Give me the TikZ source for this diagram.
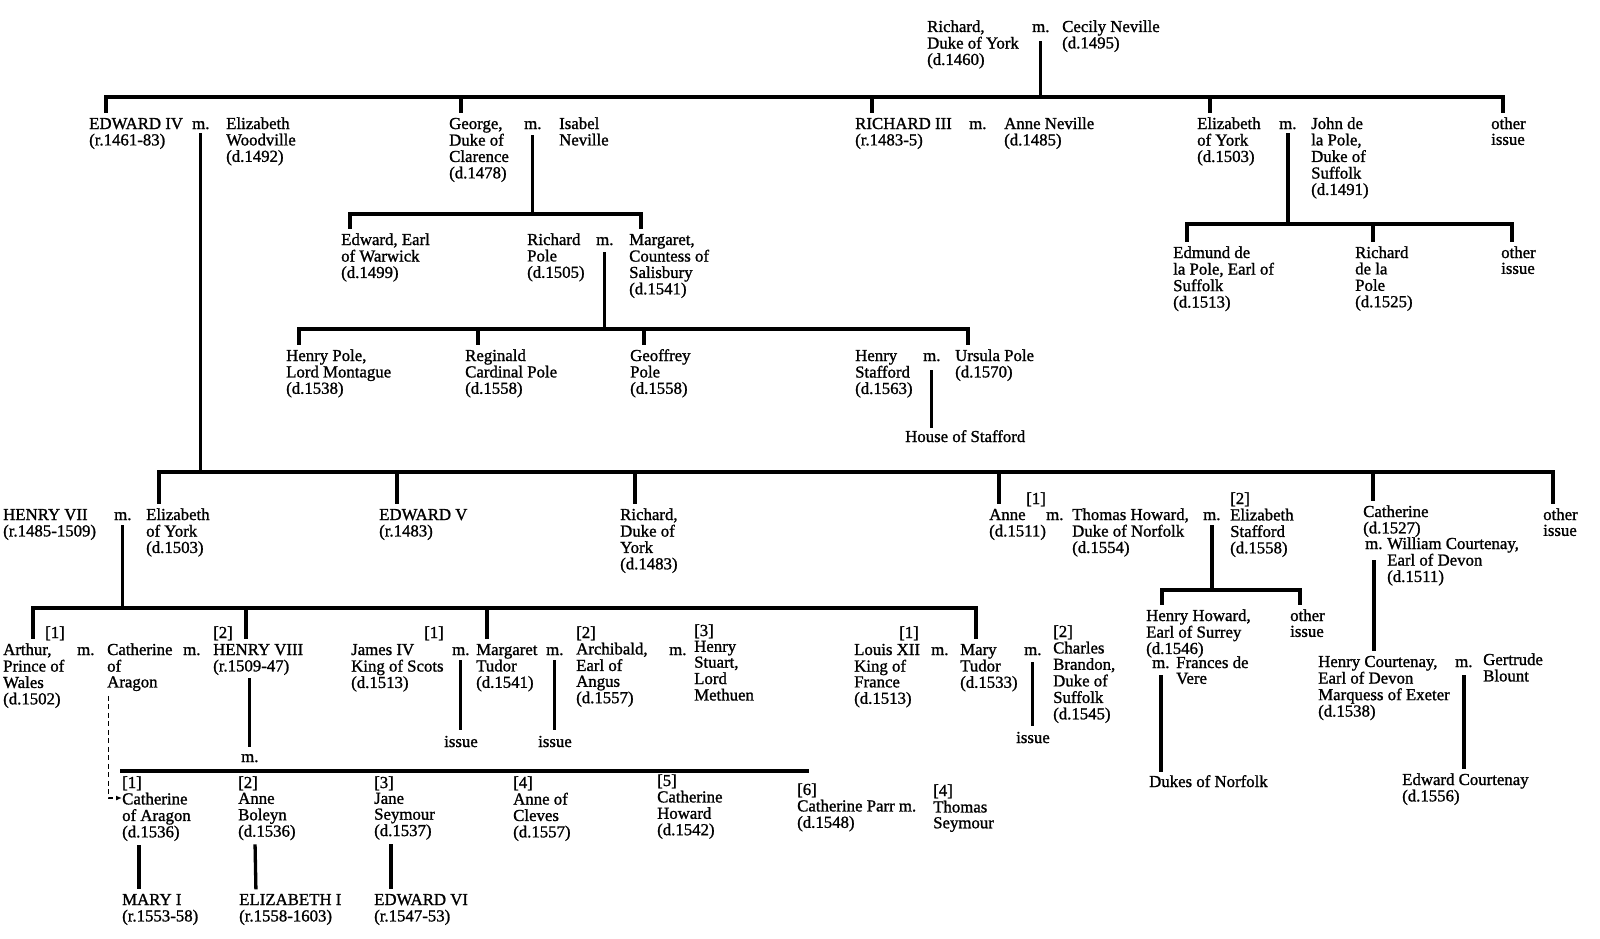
\documentclass[tikz,border=0pt]{standalone}
\usepackage{fontspec}
\setmainfont{Liberation Serif}[FakeBold=1.2]
\usetikzlibrary{arrows.meta,calc}
% stacked lines, hung from the first baseline
\newcommand\pl[1]{\begin{tabular}[t]{@{}l@{}}#1\end{tabular}}

\begin{document}
\begin{tikzpicture}[x=1pt,y=-1pt,
  font=\fontsize{16.8}{15.8}\selectfont,
  pp/.style={anchor=base west,inner sep=0pt},
  ln/.style={line width=3.3pt,line cap=rect},
  dr/.style={ln,shorten >=6pt},
  mb/.style={ln,shorten <=#1},mb/.default=6.6pt,
  mc/.style={ln,shorten <=#1,shorten >=6pt},mc/.default=6.6pt,
  dsh/.style={line width=1.3pt,dash pattern=on 5pt off 3.5pt,-{Latex[length=6pt,width=5pt]}}]
\useasboundingbox (0,0) rectangle (1600,939);

% Richard, Duke of York and Cecily Neville
\node[pp] (rdy) at (927,32) {\pl{Richard,\\Duke of York\\(d.1460)}};
\node[pp] (m0) at (1032,32) {m.};
\node[pp] (cec) at (1062,32) {\pl{Cecily Neville\\(d.1495)}};

% their children
\node[pp] (edw4) at (89,129) {\pl{EDWARD IV\\(r.1461-83)}};
\node[pp] (m1) at (192,129) {m.};
\node[pp] (ewood) at (226,129) {\pl{Elizabeth\\Woodville\\(d.1492)}};
\node[pp] (geo) at (449,129) {\pl{George,\\Duke of\\Clarence\\(d.1478)}};
\node[pp] (m2) at (524,129) {m.};
\node[pp] (isab) at (559,129) {\pl{Isabel\\Neville}};
\node[pp] (ric3) at (855,129) {\pl{RICHARD III\\(r.1483-5)}};
\node[pp] (m3) at (969,129) {m.};
\node[pp] (anev) at (1004,129) {\pl{Anne Neville\\(d.1485)}};
\node[pp] (elzy) at (1197,129) {\pl{Elizabeth\\of York\\(d.1503)}};
\node[pp] (m4) at (1279,129) {m.};
\node[pp] (jdlp) at (1311,129) {\pl{John de\\la Pole,\\Duke of\\Suffolk\\(d.1491)}};
\node[pp] (oth1) at (1491,129) {\pl{other\\issue}};

% Clarence and de la Pole children
\node[pp] (warw) at (341,245) {\pl{Edward, Earl\\of Warwick\\(d.1499)}};
\node[pp] (rpole) at (527,245) {\pl{Richard\\Pole\\(d.1505)}};
\node[pp] (m5) at (596,245) {m.};
\node[pp] (marg) at (629,245) {\pl{Margaret,\\Countess of\\Salisbury\\(d.1541)}};
\node[pp] (edmd) at (1173,258) {\pl{Edmund de\\la Pole, Earl of\\Suffolk\\(d.1513)}};
\node[pp] (rdlp) at (1355,258) {\pl{Richard\\de la\\Pole\\(d.1525)}};
\node[pp] (oth2) at (1501,258) {\pl{other\\issue}};

% the Poles
\node[pp] (hpole) at (286,361) {\pl{Henry Pole,\\Lord Montague\\(d.1538)}};
\node[pp] (regi) at (465,361) {\pl{Reginald\\Cardinal Pole\\(d.1558)}};
\node[pp] (geof) at (630,361) {\pl{Geoffrey\\Pole\\(d.1558)}};
\node[pp] (hstaf) at (855,361) {\pl{Henry\\Stafford\\(d.1563)}};
\node[pp] (m6) at (923,361) {m.};
\node[pp] (ursu) at (955,361) {\pl{Ursula Pole\\(d.1570)}};
\node[pp] (hsta) at (905,442) {House of Stafford};

% children of Edward IV
\node[pp] (h7) at (3,520) {\pl{HENRY VII\\(r.1485-1509)}};
\node[pp] (m7) at (114,520) {m.};
\node[pp] (ely2) at (146,520) {\pl{Elizabeth\\of York\\(d.1503)}};
\node[pp] (edw5) at (379,520) {\pl{EDWARD V\\(r.1483)}};
\node[pp] (rdy2) at (620,520) {\pl{Richard,\\Duke of\\York\\(d.1483)}};
\node[pp] (anne) at (989,520) {\pl{Anne\\(d.1511)}};
\node[pp] (anne-n) at (1026,504) {[1]};
\node[pp] (m8) at (1046,520) {m.};
\node[pp] (thow) at (1072,520) {\pl{Thomas Howard,\\Duke of Norfolk\\(d.1554)}};
\node[pp] (m9) at (1203,520) {m.};
\node[pp] (estaf) at (1230,504) {\pl{[2]\\Elizabeth\\Stafford\\(d.1558)}};
\node[pp] (cath) at (1363,517) {\pl{Catherine\\(d.1527)}};
\node[pp] (m10) at (1365,549) {m.};
\node[pp] (wcour) at (1387,549) {\pl{William Courtenay,\\Earl of Devon\\(d.1511)}};
\node[pp] (oth3) at (1543,520) {\pl{other\\issue}};

% children of Henry VII
\node[pp] (arth) at (3,655) {\pl{Arthur,\\Prince of\\Wales\\(d.1502)}};
\node[pp] (arth-n) at (45,638) {[1]};
\node[pp] (m11) at (77,655) {m.};
\node[pp] (cat1) at (107,655) {\pl{Catherine\\of\\Aragon}};
\node[pp] (m12) at (183,655) {m.};
\node[pp] (h8-n) at (213,638) {[2]};
\node[pp] (h8) at (213,655) {\pl{HENRY VIII\\(r.1509-47)}};
\node[pp] (m13) at (241,762) {m.};
\node[pp] (jam4) at (351,655) {\pl{James IV\\King of Scots\\(d.1513)}};
\node[pp] (jam4-n) at (424,638) {[1]};
\node[pp] (m14) at (452,655) {m.};
\node[pp] (iss1) at (444,747) {issue};
\node[pp] (mtud) at (476,655) {\pl{Margaret\\Tudor\\(d.1541)}};
\node[pp] (m15) at (546,655) {m.};
\node[pp] (iss2) at (538,747) {issue};
\node[pp] (arch) at (576,638) {\pl{[2]\\Archibald,\\Earl of\\Angus\\(d.1557)}};
\node[pp] (m16) at (669,655) {m.};
\node[pp] (hstu) at (694,636) {\pl{[3]\\Henry\\Stuart,\\Lord\\Methuen}};
\node[pp] (lou) at (854,655) {\pl{Louis XII\\King of\\France\\(d.1513)}};
\node[pp] (lou-n) at (899,638) {[1]};
\node[pp] (m17) at (931,655) {m.};
\node[pp] (mary) at (960,655) {\pl{Mary\\Tudor\\(d.1533)}};
\node[pp] (m18) at (1024,655) {m.};
\node[pp] (iss3) at (1016,743) {issue};
\node[pp] (cbran) at (1053,637) {\pl{[2]\\Charles\\Brandon,\\Duke of\\Suffolk\\(d.1545)}};

% Howards and Courtenays
\node[pp] (hhow) at (1146,621) {\pl{Henry Howard,\\Earl of Surrey\\(d.1546)}};
\node[pp] (m19) at (1152,668) {m.};
\node[pp] (fdv) at (1176,668) {\pl{Frances de\\Vere}};
\node[pp] (dnor) at (1149,787) {Dukes of Norfolk};
\node[pp] (oth4) at (1290,621) {\pl{other\\issue}};
\node[pp] (hcour) at (1318,667) {\pl{Henry Courtenay,\\Earl of Devon\\Marquess of Exeter\\(d.1538)}};
\node[pp] (m20) at (1455,667) {m.};
\node[pp] (gert) at (1483,665) {\pl{Gertrude\\Blount}};
\node[pp] (ecour) at (1402,785) {\pl{Edward Courtenay\\(d.1556)}};

% wives of Henry VIII and their children
\node[pp] (w1) at (122,788) {\pl{[1]\\Catherine\\of Aragon\\(d.1536)}};
\node[pp] (w2) at (238,788) {\pl{[2]\\Anne\\Boleyn\\(d.1536)}};
\node[pp] (w3) at (374,788) {\pl{[3]\\Jane\\Seymour\\(d.1537)}};
\node[pp] (w4) at (513,788) {\pl{[4]\\Anne of\\Cleves\\(d.1557)}};
\node[pp] (w5) at (657,786) {\pl{[5]\\Catherine\\Howard\\(d.1542)}};
\node[pp] (w6) at (797,795) {\pl{[6]\\Catherine Parr m.\\(d.1548)}};
\node[pp] (tsey) at (933,796) {\pl{[4]\\Thomas\\Seymour}};
\node[pp] (mary1) at (122,905) {\pl{MARY I\\(r.1553-58)}};
\node[pp] (eliz1) at (239,905) {\pl{ELIZABETH I\\(r.1558-1603)}};
\node[pp] (edw6) at (374,905) {\pl{EDWARD VI\\(r.1547-53)}};

% levels of the bars
\coordinate (yb0) at (0,97);
\coordinate (yb1) at (0,214);
\coordinate (yb2) at (0,224);
\coordinate (yb3) at (0,329);
\coordinate (yb4) at (0,472);
\coordinate (yb5) at (0,608);
\coordinate (yb6) at (0,590);
\coordinate (yb7) at (0,771);

% where each drop meets its child
\foreach \n/\d in {edw4/17pt,geo/12pt,ric3/17pt,elzy/13pt,oth1/12pt,warw/9pt,marg/12pt,
  edmd/14pt,rdlp/18pt,oth2/11pt,hpole/13pt,regi/13pt,geof/14pt,ursu/13pt,ely2/13pt,
  edw5/18pt,rdy2/15pt,anne/10pt,cath/10pt,oth3/10pt,arth/30pt,h8/33pt,mtud/11pt,
  mary/16pt,hhow/16pt,oth4/10pt}
  \coordinate (\n-d) at ([xshift=\d]\n.north west);

% bars and drops
\draw[ln] (edw4-d |- yb0) -- (oth1-d |- yb0);
\foreach \n in {edw4,geo,ric3,elzy,oth1} \draw[dr] (\n-d |- yb0) -- (\n-d);
\draw[mb=10.6pt] (m0.south) -- (m0.south |- yb0);

\draw[ln] (warw-d |- yb1) -- (marg-d |- yb1);
\foreach \n in {warw,marg} \draw[dr] (\n-d |- yb1) -- (\n-d);
\draw[mb=7.6pt] (m2.south) -- (m2.south |- yb1);

\draw[ln] (edmd-d |- yb2) -- (oth2-d |- yb2);
\foreach \n in {edmd,rdlp,oth2} \draw[dr] (\n-d |- yb2) -- (\n-d);
\draw[mb=5.6pt] (m4.south) -- (m4.south |- yb2);

\draw[ln] (hpole-d |- yb3) -- (ursu-d |- yb3);
\foreach \n in {hpole,regi,geof,ursu} \draw[dr] (\n-d |- yb3) -- (\n-d);
\draw[mb=8.6pt] (m5.south) -- (m5.south |- yb3);
\draw[mc=10.6pt,shorten >=4pt] (m6.south) -- (m6.south |- hsta.north);

\draw[ln] (ely2-d |- yb4) -- (oth3-d |- yb4);
\foreach \n in {ely2,edw5,rdy2,anne,cath,oth3} \draw[dr] (\n-d |- yb4) -- (\n-d);
\draw[mb=5.6pt] (m1.south) -- (m1.south |- yb4);

\draw[ln] (arth-d |- yb5) -- (mary-d |- yb5);
\foreach \n in {arth,h8,mtud,mary} \draw[dr] (\n-d |- yb5) -- (\n-d);
\draw[mb] (m7.south) -- (m7.south |- yb5);

\draw[ln] (hhow-d |- yb6) -- (oth4-d |- yb6);
\foreach \n in {hhow,oth4} \draw[dr] (\n-d |- yb6) -- (\n-d);
\draw[mb] (m9.south) -- (m9.south |- yb6);

\draw[mc=12.6pt] (m10.south) -- (m10.south |- hcour.north);
\draw[mc=8.6pt,shorten >=5pt] (m19.south) -- (m19.south |- dnor.north);
\draw[mc=9.6pt] (m20.south) -- (m20.south |- ecour.north);
\foreach \m/\c/\s in {m14/iss1/6.6pt,m15/iss2/6.6pt,m18/iss3/8.6pt}
  \draw[mc=\s,shorten >=7pt] (\m.south) -- (\m.south |- \c.north);

% Henry VIII and his wives
\draw[ln,shorten <=3pt,shorten >=9pt] (m13.north |- h8.south) -- (m13.north);
\draw[ln] (w1.west |- yb7) -- ++(685,0);
\foreach \w/\c in {w1/mary1,w2/eliz1,w3/edw6}
  \draw[mc=4.4pt] ([xshift=17pt]\w.south west) -- ([xshift=17pt]\c.north west);
\draw[dsh,shorten <=3.6pt] ([xshift=1.5pt]cat1.south west) |- ([yshift=-10pt]w1.base west);
\end{tikzpicture}
\end{document}
